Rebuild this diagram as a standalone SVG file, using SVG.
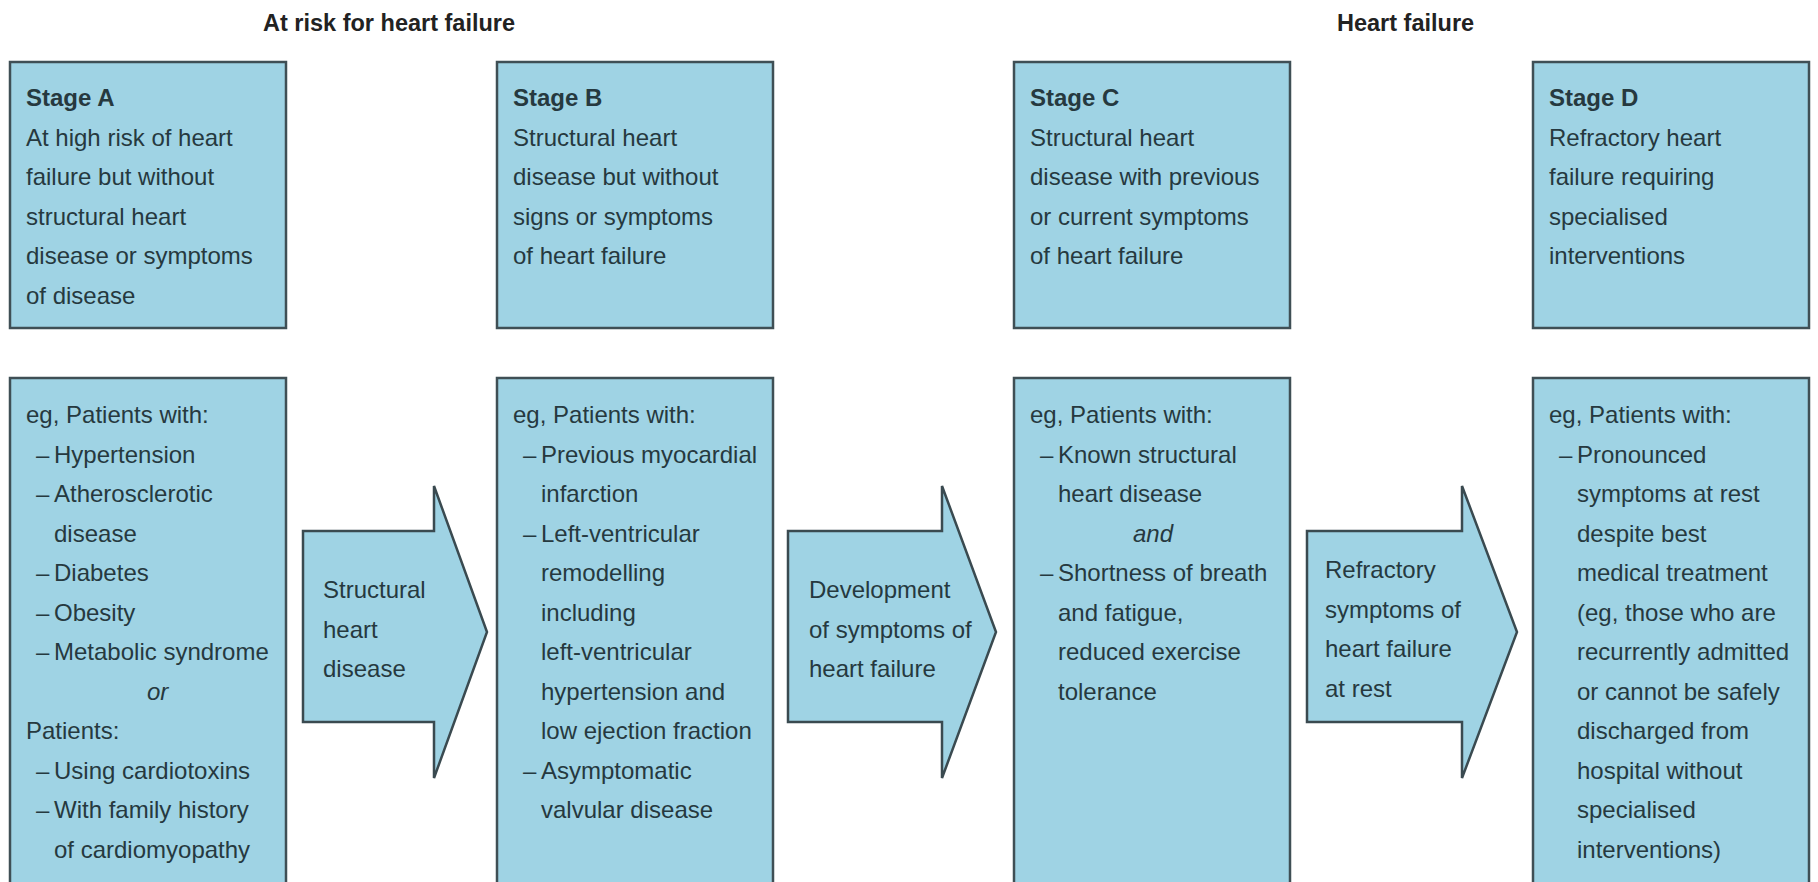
<svg xmlns="http://www.w3.org/2000/svg" width="1818" height="882" viewBox="0 0 1818 882">
<style>
.box{fill:#9fd3e4;stroke:#3f4f55;stroke-width:2.5}
.arr{fill:#9fd3e4;stroke:#3a4a50;stroke-width:2.5;stroke-linejoin:miter}
.t{font-family:"Liberation Sans",Arial,sans-serif;font-size:24px;fill:#26393f}
.b{font-weight:bold}
.i{font-style:italic}
.title{font-family:"Liberation Sans",Arial,sans-serif;font-size:23.5px;font-weight:bold;fill:#222}
</style>
<rect width="1818" height="882" fill="#fff"/>
<text class="title" x="263" y="31">At risk for heart failure</text>
<text class="title" x="1337" y="31">Heart failure</text>

<g id="stageA">
<rect class="box" x="10" y="62" width="276" height="266"/>
<text class="t b" x="26" y="106">Stage A</text>
<text class="t" x="26" y="145.5">At high risk of heart</text>
<text class="t" x="26" y="185">failure but without</text>
<text class="t" x="26" y="224.5">structural heart</text>
<text class="t" x="26" y="264">disease or symptoms</text>
<text class="t" x="26" y="303.5">of disease</text>
</g>
<g id="stageB">
<rect class="box" x="497" y="62" width="276" height="266"/>
<text class="t b" x="513" y="106">Stage B</text>
<text class="t" x="513" y="145.5">Structural heart</text>
<text class="t" x="513" y="185">disease but without</text>
<text class="t" x="513" y="224.5">signs or symptoms</text>
<text class="t" x="513" y="264">of heart failure</text>
</g>
<g id="stageC">
<rect class="box" x="1014" y="62" width="276" height="266"/>
<text class="t b" x="1030" y="106">Stage C</text>
<text class="t" x="1030" y="145.5">Structural heart</text>
<text class="t" x="1030" y="185">disease with previous</text>
<text class="t" x="1030" y="224.5">or current symptoms</text>
<text class="t" x="1030" y="264">of heart failure</text>
</g>
<g id="stageD">
<rect class="box" x="1533" y="62" width="276" height="266"/>
<text class="t b" x="1549" y="106">Stage D</text>
<text class="t" x="1549" y="145.5">Refractory heart</text>
<text class="t" x="1549" y="185">failure requiring</text>
<text class="t" x="1549" y="224.5">specialised</text>
<text class="t" x="1549" y="264">interventions</text>
</g>

<g id="patientsA">
<rect class="box" x="10" y="378" width="276" height="520"/>
<text class="t" x="26" y="423">eg, Patients with:</text>
<text class="t" y="462.5"><tspan x="36">– </tspan><tspan x="54">Hypertension</tspan></text>
<text class="t" y="502"><tspan x="36">– </tspan><tspan x="54">Atherosclerotic</tspan></text>
<text class="t" x="54" y="541.5">disease</text>
<text class="t" y="581"><tspan x="36">– </tspan><tspan x="54">Diabetes</tspan></text>
<text class="t" y="620.5"><tspan x="36">– </tspan><tspan x="54">Obesity</tspan></text>
<text class="t" y="660"><tspan x="36">– </tspan><tspan x="54">Metabolic syndrome</tspan></text>
<text class="t i" x="147" y="699.5">or</text>
<text class="t" x="26" y="739">Patients:</text>
<text class="t" y="778.5"><tspan x="36">– </tspan><tspan x="54">Using cardiotoxins</tspan></text>
<text class="t" y="818"><tspan x="36">– </tspan><tspan x="54">With family history</tspan></text>
<text class="t" x="54" y="857.5">of cardiomyopathy</text>
</g>
<g id="patientsB">
<rect class="box" x="497" y="378" width="276" height="520"/>
<text class="t" x="513" y="423">eg, Patients with:</text>
<text class="t" y="462.5"><tspan x="523">– </tspan><tspan x="541">Previous myocardial</tspan></text>
<text class="t" x="541" y="502">infarction</text>
<text class="t" y="541.5"><tspan x="523">– </tspan><tspan x="541">Left-ventricular</tspan></text>
<text class="t" x="541" y="581">remodelling</text>
<text class="t" x="541" y="620.5">including</text>
<text class="t" x="541" y="660">left-ventricular</text>
<text class="t" x="541" y="699.5">hypertension and</text>
<text class="t" x="541" y="739">low ejection fraction</text>
<text class="t" y="778.5"><tspan x="523">– </tspan><tspan x="541">Asymptomatic</tspan></text>
<text class="t" x="541" y="818">valvular disease</text>
</g>
<g id="patientsC">
<rect class="box" x="1014" y="378" width="276" height="520"/>
<text class="t" x="1030" y="423">eg, Patients with:</text>
<text class="t" y="462.5"><tspan x="1040">– </tspan><tspan x="1058">Known structural</tspan></text>
<text class="t" x="1058" y="502">heart disease</text>
<text class="t i" x="1133" y="541.5">and</text>
<text class="t" y="581"><tspan x="1040">– </tspan><tspan x="1058">Shortness of breath</tspan></text>
<text class="t" x="1058" y="620.5">and fatigue,</text>
<text class="t" x="1058" y="660">reduced exercise</text>
<text class="t" x="1058" y="699.5">tolerance</text>
</g>
<g id="patientsD">
<rect class="box" x="1533" y="378" width="276" height="520"/>
<text class="t" x="1549" y="423">eg, Patients with:</text>
<text class="t" y="462.5"><tspan x="1559">– </tspan><tspan x="1577">Pronounced</tspan></text>
<text class="t" x="1577" y="502">symptoms at rest</text>
<text class="t" x="1577" y="541.5">despite best</text>
<text class="t" x="1577" y="581">medical treatment</text>
<text class="t" x="1577" y="620.5">(eg, those who are</text>
<text class="t" x="1577" y="660">recurrently admitted</text>
<text class="t" x="1577" y="699.5">or cannot be safely</text>
<text class="t" x="1577" y="739">discharged from</text>
<text class="t" x="1577" y="778.5">hospital without</text>
<text class="t" x="1577" y="818">specialised</text>
<text class="t" x="1577" y="857.5">interventions)</text>
</g>

<g id="connectors">
<g id="arrow1">
<path class="arr" d="M303,531 H434 V486 L487,632 L434,778 V722 H303 Z"/>
<text class="t" x="323" y="598">Structural</text>
<text class="t" x="323" y="637.5">heart</text>
<text class="t" x="323" y="677">disease</text>
</g>
<g id="arrow2">
<path class="arr" d="M788,531 H942 V486 L996,632 L942,778 V722 H788 Z"/>
<text class="t" x="809" y="598">Development</text>
<text class="t" x="809" y="637.5">of symptoms of</text>
<text class="t" x="809" y="677">heart failure</text>
</g>
<g id="arrow3">
<path class="arr" d="M1307,531 H1462 V486 L1517,632 L1462,778 V722 H1307 Z"/>
<text class="t" x="1325" y="578">Refractory</text>
<text class="t" x="1325" y="617.5">symptoms of</text>
<text class="t" x="1325" y="657">heart failure</text>
<text class="t" x="1325" y="696.5">at rest</text>
</g>
</g>
</svg>
